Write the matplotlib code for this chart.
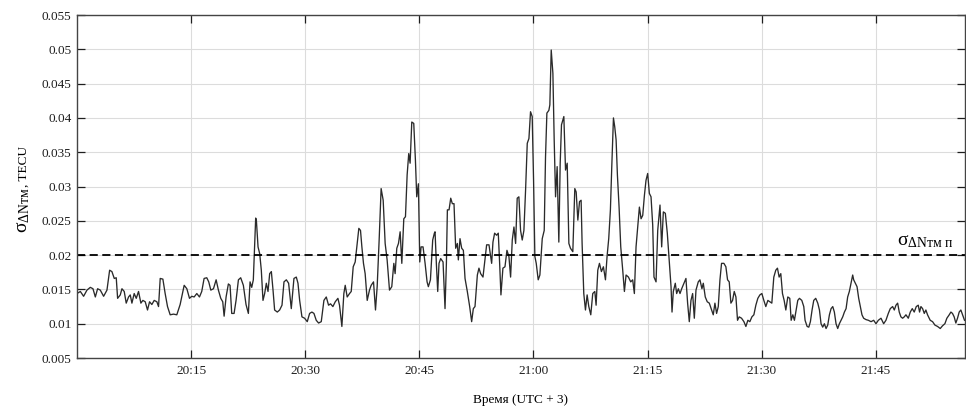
import numpy as np
import matplotlib
matplotlib.use('Agg')
import matplotlib.pyplot as plt
import matplotlib.transforms as mtransforms

plt.rcParams['font.family'] = ['Liberation Serif', 'DejaVu Serif']
plt.rcParams['mathtext.fontset'] = 'custom'
plt.rcParams['mathtext.rm'] = 'Liberation Serif'
plt.rcParams['mathtext.it'] = 'Liberation Serif:italic'
plt.rcParams['mathtext.bf'] = 'Liberation Serif:bold'

# time in minutes after 20:00 (UTC+3), sigma in TECU
t_a = [0.00, 0.44, 0.87, 1.31, 1.75, 2.10, 2.41, 2.71, 3.06, 3.50,
       3.94, 4.29, 4.59, 4.90, 5.16, 5.34, 5.69, 5.91, 6.21, 6.47,
       6.78, 7.00, 7.22, 7.52, 7.79, 8.09, 8.40, 8.66, 8.97, 9.27,
       9.54, 9.84, 10.15, 10.50, 10.72, 10.94, 11.29, 11.59, 11.90, 12.25,
       12.69, 13.12, 13.56, 14.09, 14.44, 14.79, 15.09, 15.40, 15.75, 16.10,
       16.40, 16.71, 17.06, 17.32, 17.59, 17.94, 18.29, 18.59, 18.90, 19.16,
       19.34, 19.60, 19.90, 20.12, 20.34, 20.65, 20.91, 21.22, 21.52, 21.87,
       22.22, 22.53, 22.75, 22.97, 23.18, 23.49]
s_a = [.0144, .0147, .0140, .0149, .0153, .0151, .0139, .0151, .0149, .0140,
       .0149, .0178, .0176, .0166, .0167, .0137, .0142, .0151, .0147, .0130,
       .0139, .0142, .0130, .0144, .0137, .0147, .0130, .0134, .0132, .0120,
       .0132, .0128, .0134, .0132, .0125, .0166, .0165, .0144, .0125, .0113,
       .0114, .0113, .0128, .0156, .0151, .0137, .0140, .0139, .0144, .0139,
       .0147, .0166, .0167, .0161, .0149, .0151, .0164, .0149, .0137, .0132,
       .0111, .0139, .0158, .0156, .0115, .0115, .0134, .0164, .0167, .0156,
       .0128, .0115, .0161, .0153, .0164, .0254]

t_b = [23.58, 23.80, 24.02, 24.23, 24.45, 24.67, 24.89, 25.11, 25.33, 25.55,
       25.77, 25.98, 26.33, 26.64, 26.95, 27.21, 27.52, 27.82, 28.17, 28.52,
       28.83, 29.05, 29.27, 29.57, 29.92, 30.27, 30.58, 30.88, 31.15, 31.45,
       31.76, 32.11, 32.46, 32.77, 33.07, 33.33, 33.64, 33.95, 34.30, 34.51,
       34.82, 35.08, 35.26, 35.52, 35.83, 36.05, 36.31, 36.57, 36.83, 37.05,
       37.27, 37.45, 37.66, 37.88, 38.15, 38.45, 38.67, 38.98, 39.24, 39.46,
       39.72, 39.98, 40.25, 40.51, 40.77, 41.08, 41.38, 41.65, 41.82, 42.04,
       42.26, 42.48, 42.70, 42.96, 43.18, 43.40, 43.61, 43.79, 44.01, 44.27,
       44.49, 44.66, 44.88, 45.06, 45.23, 45.49, 45.76, 46.02, 46.19, 46.46,
       46.76, 46.98]
s_b = [.0251, .0212, .0202, .0178, .0134, .0144, .0159, .0147, .0173, .0176,
       .0149, .0120, .0117, .0120, .0127, .0161, .0164, .0159, .0122, .0166,
       .0168, .0159, .0134, .0110, .0108, .0103, .0115, .0117, .0115, .0105,
       .0101, .0103, .0134, .0139, .0127, .0129, .0125, .0132, .0137, .0127,
       .0096, .0144, .0156, .0139, .0144, .0147, .0183, .0190, .0217, .0239,
       .0236, .0212, .0188, .0173, .0134, .0149, .0156, .0161, .0120, .0154,
       .0222, .0297, .0280, .0217, .0193, .0149, .0154, .0188, .0173, .0210,
       .0217, .0234, .0188, .0253, .0256, .0317, .0348, .0334, .0394, .0392,
       .0338, .0285, .0304, .0190, .0212, .0212, .0188, .0161, .0154, .0164,
       .0222, .0232]

t_c = [47.07, 47.24, 47.42, 47.59, 47.81, 48.12, 48.38, 48.56, 48.69, 48.91,
       49.13, 49.34, 49.56, 49.78, 50.00, 50.13, 50.35, 50.57, 50.79, 51.01,
       51.31, 51.62, 51.88, 52.10, 52.32, 52.63, 52.84, 53.06, 53.37, 53.63,
       53.85, 54.16, 54.51, 54.68, 54.90, 55.16, 55.38, 55.56, 55.73, 55.99,
       56.26, 56.52, 56.78, 57.00, 57.22, 57.44, 57.66, 57.87, 58.09, 58.31,
       58.53, 58.75, 58.97, 59.19, 59.41, 59.62, 59.84, 60.02, 60.19, 60.37,
       60.63, 60.85, 61.16, 61.42, 61.59, 61.77, 62.03, 62.16, 62.34, 62.56,
       62.73, 62.91, 63.12, 63.34, 63.52, 63.69, 64.00, 64.22, 64.44, 64.66,
       64.87, 65.18, 65.44, 65.62, 65.84, 66.06, 66.27, 66.40, 66.62, 66.84,
       67.06, 67.28, 67.54, 67.80, 68.07, 68.24, 68.46, 68.68, 68.94, 69.20,
       69.47, 69.68, 69.90, 70.12]
s_c = [.0234, .0188, .0147, .0188, .0195, .0190, .0122, .0188, .0266, .0266,
       .0283, .0275, .0275, .0210, .0217, .0193, .0224, .0210, .0207, .0166,
       .0147, .0125, .0103, .0122, .0125, .0171, .0181, .0173, .0168, .0193,
       .0215, .0215, .0188, .0219, .0232, .0229, .0232, .0188, .0142, .0181,
       .0183, .0207, .0198, .0168, .0222, .0241, .0217, .0283, .0285, .0236,
       .0222, .0236, .0295, .0363, .0370, .0409, .0402, .0309, .0198, .0188,
       .0164, .0171, .0224, .0236, .0343, .0407, .0411, .0419, .0499, .0465,
       .0368, .0285, .0329, .0219, .0334, .0390, .0402, .0324, .0334, .0217,
       .0210, .0205, .0297, .0292, .0251, .0278, .0280, .0217, .0144, .0120,
       .0142, .0125, .0113, .0144, .0147, .0127, .0178, .0188, .0176, .0183,
       .0164, .0198, .0224, .0266]

t_d = [70.30, 70.52, 70.69, 70.87, 71.04, 71.26, 71.48, 71.74, 71.96, 72.18,
       72.49, 72.79, 73.05, 73.27, 73.49, 73.71, 73.93, 74.15, 74.37, 74.59,
       74.80, 75.02, 75.24, 75.46, 75.68, 75.85, 76.12, 76.34, 76.64, 76.86,
       77.08, 77.34, 77.60, 77.87, 78.09, 78.22, 78.39, 78.65, 78.83, 79.05,
       79.27, 79.49, 79.79, 80.05, 80.27, 80.49, 80.71, 80.93, 81.15, 81.37,
       81.67, 81.89, 82.15, 82.33, 82.59, 82.85, 83.12, 83.42, 83.64, 83.86,
       84.08, 84.30, 84.52, 84.73, 85.04, 85.30, 85.52, 85.74, 85.96, 86.18,
       86.40, 86.62, 86.83, 87.05, 87.36, 87.67, 87.93, 88.19, 88.45, 88.72,
       88.98, 89.24, 89.50, 89.77, 90.03, 90.29, 90.55, 90.82, 91.08, 91.34,
       91.60, 91.86, 92.08, 92.30, 92.52, 92.74, 92.96, 93.18, 93.44, 93.70]
s_d = [.0329, .0400, .0387, .0368, .0317, .0270, .0212, .0178, .0147, .0171,
       .0168, .0161, .0164, .0144, .0212, .0241, .0270, .0253, .0258, .0287,
       .0309, .0319, .0290, .0285, .0244, .0168, .0161, .0236, .0273, .0212,
       .0263, .0261, .0232, .0188, .0154, .0117, .0147, .0159, .0144, .0151,
       .0144, .0151, .0159, .0166, .0130, .0103, .0134, .0144, .0108, .0149,
       .0161, .0164, .0151, .0159, .0139, .0132, .0130, .0120, .0113, .0130,
       .0115, .0125, .0164, .0188, .0188, .0183, .0164, .0161, .0130, .0134,
       .0147, .0139, .0105, .0110, .0108, .0103, .0096, .0105, .0103, .0110,
       .0113, .0127, .0137, .0142, .0144, .0134, .0125, .0134, .0132, .0130,
       .0168, .0178, .0181, .0168, .0173, .0144, .0134, .0120, .0139, .0137]

t_e = [93.88, 94.10, 94.31, 94.53, 94.75, 94.97, 95.28, 95.54, 95.71, 95.98,
       96.20, 96.41, 96.63, 96.85, 97.11, 97.38, 97.60, 97.81, 98.03, 98.25,
       98.47, 98.69, 98.91, 99.13, 99.35, 99.56, 99.78, 100.00, 100.22, 100.44,
       100.66, 100.88, 101.10, 101.31, 101.53, 101.75, 101.97, 102.10, 102.32, 102.54,
       102.76, 102.98, 103.19, 103.41, 103.72, 104.03, 104.38, 104.73, 105.03, 105.34,
       105.69, 106.04, 106.34, 106.65, 106.91, 107.22, 107.44, 107.66, 107.88, 108.09,
       108.31, 108.53, 108.75, 108.97, 109.28, 109.54, 109.80, 110.06, 110.33, 110.59,
       110.76, 110.94, 111.16, 111.38, 111.59, 111.81, 112.16, 112.47, 112.78, 113.13,
       113.48, 113.78, 114.09, 114.35, 114.66, 114.88, 115.09, 115.31, 115.53, 115.75,
       115.97, 116.19, 116.41, 116.67]
s_e = [.0105, .0113, .0105, .0120, .0134, .0137, .0134, .0125, .0105, .0096,
       .0095, .0103, .0120, .0134, .0137, .0130, .0120, .0100, .0095, .0100,
       .0093, .0098, .0113, .0122, .0125, .0117, .0100, .0093, .0100, .0105,
       .0110, .0117, .0122, .0139, .0147, .0159, .0171, .0164, .0159, .0154,
       .0137, .0125, .0113, .0108, .0106, .0105, .0103, .0105, .0100, .0105,
       .0108, .0100, .0105, .0115, .0122, .0125, .0120, .0127, .0130, .0117,
       .0110, .0108, .0110, .0113, .0108, .0117, .0122, .0117, .0125, .0127,
       .0117, .0125, .0122, .0115, .0120, .0113, .0105, .0103, .0098, .0096,
       .0093, .0097, .0100, .0108, .0113, .0117, .0115, .0110, .0101, .0108,
       .0117, .0120, .0113, .0105]

threshold = 0.02

x_ticks = [15, 30, 45, 60, 75, 90, 105]
x_labels = ['20:15', '20:30', '20:45', '21:00', '21:15', '21:30', '21:45']
y_ticks = [0.005, 0.01, 0.015, 0.02, 0.025, 0.03, 0.035, 0.04, 0.045, 0.05, 0.055]
y_labels = ['0.005', '0.01', '0.015', '0.02', '0.025', '0.03', '0.035', '0.04',
            '0.045', '0.05', '0.055']

t = np.concatenate([t_a, t_b, t_c, t_d, t_e])
s = np.concatenate([s_a, s_b, s_c, s_d, s_e])

fig = plt.figure(figsize=(9.66, 4.08), dpi=100)
ax = fig.add_axes([0.0797, 0.1225, 0.919, 0.8407])

ax.plot(t, s, color='#2a2a2a', lw=0.95)
ax.axhline(threshold, color='black', lw=1.3, dashes=(4.5, 2.5))

ax.set_xlim(0, 116.7)
ax.set_ylim(0.005, 0.055)
ax.set_xticks(x_ticks)
ax.set_xticklabels(x_labels)
ax.set_yticks(y_ticks)
ax.set_yticklabels(y_labels)
ax.grid(True, color='#dcdcdc', lw=0.8)
ax.set_axisbelow(True)
ax.tick_params(direction='in', length=6, width=0.9, top=True, right=True,
               labelsize=9.5, colors='#1e1e1e')
ax.tick_params(axis='x', pad=5)
ax.tick_params(axis='y', pad=4)
for sp in ax.spines.values():
    sp.set_color('#444444')
    sp.set_linewidth(1.0)

ax.set_xlabel('Время (UTC + 3)', fontsize=9.5, labelpad=12)

# y label: big sigma with subscript, then ", TECU"
fig.text(27 / 966, 175 / 408, r'σ$_{\mathrm{ΔNтм}}$', rotation=90,
         rotation_mode='anchor', ha='left', va='baseline', fontsize=14)
fig.text(27 / 966, 221 / 408, ', TECU', rotation=90,
         rotation_mode='anchor', ha='left', va='baseline', fontsize=9.5)

trans = mtransforms.blended_transform_factory(ax.transAxes, ax.transData)
ax.text(0.924, threshold + 0.0014, r'σ$_{\mathrm{ΔNтм\ п}}$', transform=trans,
        ha='left', va='baseline', fontsize=14)

fig.savefig('out.png', dpi=100)
